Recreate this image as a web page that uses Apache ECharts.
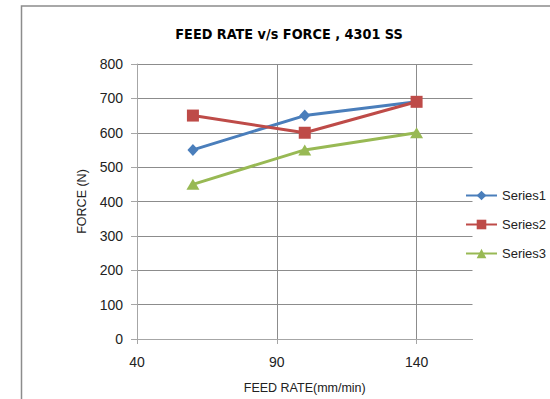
<!DOCTYPE html>
<html>
<head>
<meta charset="utf-8">
<script src="https://cdn.jsdelivr.net/npm/echarts@6/dist/echarts.min.js"></script>
<style>
html,body{margin:0;padding:0;background:#fff;}
#chart{width:550px;height:399px;}
</style>
</head>
<body>
<div id="chart"></div>
<script>
var titleText = 'FEED RATE v/s FORCE , 4301 SS';
var xName = 'FEED RATE(mm/min)';
var yName = 'FORCE (N)';
var feedRates = [60, 100, 140];
var seriesNames = ['Series1', 'Series2', 'Series3'];
var series1 = [550, 650, 690];
var series2 = [650, 600, 690];
var series3 = [450, 550, 600];
var xTicks = [40, 90, 140];
var yTicks = [0, 100, 200, 300, 400, 500, 600, 700, 800];

function pairs(vals) {
  return feedRates.map(function (x, i) { return [x, vals[i]]; });
}

var chart = echarts.init(document.getElementById('chart'), null, {renderer: 'svg'});
var font = "'Liberation Sans', Arial, sans-serif";
var colors = ['#4A7EBB', '#BE4B48', '#98B954'];

chart.setOption({
  animation: false,
  color: colors,
  graphic: [
    {type: 'rect', shape: {x: 21.5, y: 6, width: 600, height: 500},
     style: {fill: 'none', stroke: '#8c8c8c', lineWidth: 1.5}, silent: true},
    {type: 'text', x: 289, y: 34,
     style: {text: titleText, align: 'center', verticalAlign: 'middle',
             font: "bold 14.3px 'DejaVu Sans Condensed', sans-serif", fill: '#000'}}
  ],
  grid: {left: 137, right: 77.5, top: 64, bottom: 58.5, containLabel: false},
  legend: {
    orient: 'vertical', left: 465, top: 189, padding: 0,
    itemWidth: 31, itemHeight: 12, itemGap: 16,
    data: seriesNames,
    textStyle: {fontFamily: font, fontSize: 13, color: '#222'}
  },
  xAxis: {
    type: 'value', min: 40, max: 160, interval: 50,
    name: xName, nameLocation: 'middle', nameGap: 42,
    nameTextStyle: {fontFamily: font, fontSize: 12.5, color: '#222'},
    axisLine: {show: true, onZero: false, lineStyle: {color: '#a6a6a6', width: 1}},
    axisTick: {show: true, length: 5, customValues: xTicks, lineStyle: {color: '#a6a6a6'}},
    axisLabel: {customValues: xTicks, margin: 16, fontFamily: font, fontSize: 14, color: '#222'},
    splitLine: {show: true, lineStyle: {color: '#8c8c8c', width: 1}}
  },
  yAxis: {
    type: 'value', min: 0, max: 800, interval: 100,
    name: yName, nameLocation: 'middle', nameGap: 43, nameRotate: 90,
    nameTextStyle: {fontFamily: font, fontSize: 12.5, color: '#222'},
    axisLine: {show: true, lineStyle: {color: '#a6a6a6', width: 1}},
    axisTick: {show: true, length: 6, lineStyle: {color: '#a6a6a6'}},
    axisLabel: {margin: 14, fontFamily: font, fontSize: 14, color: '#222',
      formatter: function (v) { return yTicks.indexOf(v) >= 0 ? String(v) : ''; }},
    splitLine: {show: true, lineStyle: {color: '#8c8c8c', width: 1}}
  },
  series: [
    {name: seriesNames[0], type: 'line', data: pairs(series1),
     symbol: 'diamond', symbolSize: [11, 12], lineStyle: {width: 3}, itemStyle: {color: colors[0]}},
    {name: seriesNames[1], type: 'line', data: pairs(series2),
     symbol: 'rect', symbolSize: 12, lineStyle: {width: 3}, itemStyle: {color: colors[1]}},
    {name: seriesNames[2], type: 'line', data: pairs(series3),
     symbol: 'triangle', symbolSize: [13, 11], lineStyle: {width: 3}, itemStyle: {color: colors[2]}}
  ]
});
</script>
</body>
</html>
